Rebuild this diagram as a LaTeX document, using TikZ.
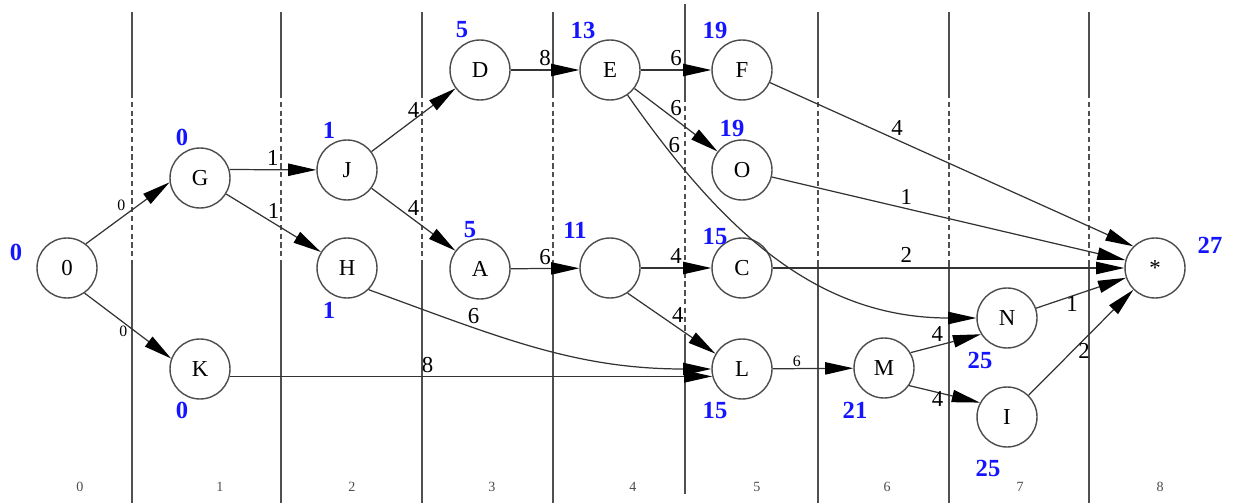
\documentclass[tikz,border=0pt]{standalone}
\usepackage{fontspec}
\setmainfont{Liberation Serif}
\usepackage{tikz}
\usetikzlibrary{arrows.meta}
\definecolor{estblue}{HTML}{1414ff}
\definecolor{gridgray}{HTML}{505050}
\definecolor{edgeink}{HTML}{333333}

\begin{document}
\begin{tikzpicture}[x=0.02cm,y=-0.02cm,
  state/.style={circle,draw=black!70,line width=0.8pt,minimum size=1.2cm,inner sep=0pt,font=\fontsize{13}{15}\selectfont},
  est/.style={text=estblue,font=\fontsize{14}{16}\selectfont\bfseries,inner sep=0pt},
  wt/.style={font=\fontsize{13}{15}\selectfont,inner sep=2pt},
  swt/.style={font=\fontsize{9}{11}\selectfont,inner sep=1pt},
  col/.style={font=\fontsize{8}{10}\selectfont,text=black!70,inner sep=0pt},
  grid/.style={draw=gridgray,line width=1.1pt},
  arr/.style={-{Triangle[length=16pt,width=7pt,color=black]},draw=edgeink,line width=0.7pt}
]
\useasboundingbox (0,0) rectangle (1233,503);
\foreach \gx in {132,281,422,553,818,949,1089}{
  \draw[grid] (\gx,12) -- (\gx,93);
  \draw[grid,densely dashed] (\gx,93) -- (\gx,262);
  \draw[grid] (\gx,262) -- (\gx,503);
}
\draw[grid] (685,4) -- (685,97);
\draw[grid,densely dashed] (685,97) -- (685,338);
\draw[grid] (685,338) -- (685,494);
\foreach \cx/\cn in {80/0,220/1,352/2,492/3,633/4,757/5,887/6,1020/7,1160/8}
  \node[col] (c\cn) at (\cx,487) {\cn};

\node[state] (n0) at (67,268) {0};
\node[state] (G) at (200,178) {G};
\node[state] (K) at (200,369) {K};
\node[state] (J) at (347,170) {J};
\node[state] (H) at (347,268) {H};
\node[state] (D) at (480,70) {D};
\node[state] (A) at (480,269) {A};
\node[state] (E) at (610,70) {E};
\node[state] (blank) at (610,268) {};
\node[state] (F) at (742,70) {F};
\node[state] (O) at (742,170) {O};
\node[state] (C) at (742,268) {C};
\node[state] (L) at (742,369) {L};
\node[state] (M) at (884,368) {M};
\node[state] (N) at (1007,318) {N};
\node[state] (I) at (1007,417) {I};
\node[state] (fin) at (1155,268) {*};

\node[est] (e0) at (16,252) {0};
\node[est] (eG) at (182,137) {0};
\node[est] (eK) at (182,410) {0};
\node[est] (eJ) at (329,130) {1};
\node[est] (eH) at (329,310) {1};
\node[est] (eD) at (462,30) {5};
\node[est] (eA) at (470,230) {5};
\node[est] (eE) at (583,30) {13};
\node[est] (eB) at (575,230) {11};
\node[est] (eF) at (715,30) {19};
\node[est] (eO) at (732,128) {19};
\node[est] (eC) at (715,237) {15};
\node[est] (eL) at (715,410) {15};
\node[est] (eM) at (855,410) {21};
\node[est] (eN) at (980,360) {25};
\node[est] (eI) at (988,468) {25};
\node[est] (efin) at (1210,245) {27};

\draw[arr] (n0.52) -- node[swt,pos=0.5,above left] {0} (G.188);
\draw[arr] (n0.-55) -- node[swt,pos=0.5,below left=-1pt] {0} (K.160);
\draw[arr] (G.16) -- node[wt,above] {1} (J);
\draw[arr] (G) -- node[wt,above] {1} (H);
\draw[arr] (J) -- node[wt,above=-1pt] {4} (D);
\draw[arr] (J) -- node[wt,above] {4} (A);
\draw[arr] (D) -- node[wt,above] {8} (E);
\draw[arr] (A) -- node[wt,above] {6} (blank);
\draw[arr] (E) -- node[wt,above] {6} (F);
\draw[arr] (E) -- node[wt,above] {6} (O);
\draw[arr] (E.-55) to[out=-55,in=180] node[wt,pos=0.15,above right=-3pt] {6} (N.west);
\draw[arr] (blank) -- node[wt,above] {4} (C);
\draw[arr] (blank.-55) -- node[wt,above right=-2pt] {4} (L.150);
\draw[arr] (H.-45) to[out=-20,in=180] node[wt,pos=0.3,above] {6} (L.west);
\draw[arr] (K.-14) -- node[wt,pos=0.41,above] {8} (L.194);
\draw[arr] (L) -- node[swt,pos=0.3,above] {6} (M);
\draw[arr] (M.30) -- node[wt,pos=0.38,above] {4} (N.212);
\draw[arr] (M.-35) -- node[wt,pos=0.4,below=-3pt] {4} (I.152);
\draw[arr] (F) -- node[wt,pos=0.35,above] {4} (fin.135);
\draw[arr] (O) -- node[wt,pos=0.38,above] {1} (fin.165);
\draw[arr] (C) -- node[wt,pos=0.38,above=1pt] {2} (fin);
\draw[arr] (N) -- node[wt,pos=0.4,below=-2pt] {1} (fin);
\draw[arr] (I) -- node[wt,pos=0.53,below] {2} (fin);
\end{tikzpicture}
\end{document}
